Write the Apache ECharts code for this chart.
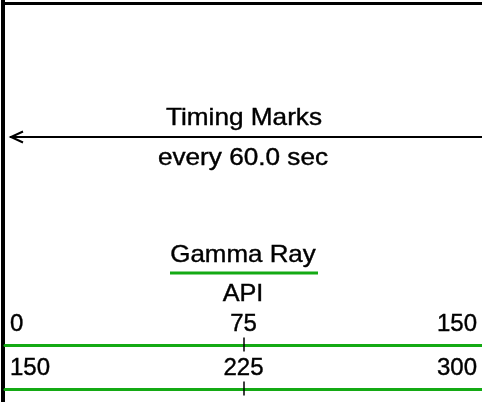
<!DOCTYPE html>
<html>
<head>
<meta charset="utf-8">
<script src="https://cdn.jsdelivr.net/npm/echarts@6/dist/echarts.min.js"></script>
<style>
  html, body { margin: 0; padding: 0; background: #fff; }
  #chart { width: 482px; height: 402px; }
</style>
</head>
<body>
<div id="chart"></div>
<script>
// track header: gamma ray scale, two wraps
const curveName = "Gamma Ray";
const curveUnit = "API";
const timingTitle = "Timing Marks";
const timingNote = "every 60.0 sec";
const scaleMin = [0, 150];
const scaleMax = [150, 300];
const scaleLabels = [[0, 75, 150], [150, 225, 300]];
const scaleTicks = [[75], [225]];

const green = "#14aa14";
const font = "'Liberation Sans', Arial, sans-serif";
const axisTops = [344.5, 388.5];

const grids = [];
const xAxes = [];
const yAxes = [];
const series = [];

axisTops.forEach((top, i) => {
  grids.push({ left: 5, right: 0, top: top, height: 1 });
  // axis line, labels and upward tick
  xAxes.push({
    type: "value",
    gridIndex: i,
    position: "top",
    min: scaleMin[i],
    max: scaleMax[i],
    axisLine: { show: true, lineStyle: { color: green, width: 3 } },
    axisTick: { show: true, customValues: scaleTicks[i], length: 8, lineStyle: { color: "#000", width: 1.5 } },
    splitLine: { show: false },
    axisLabel: {
      show: true,
      customValues: scaleLabels[i],
      showMinLabel: true,
      showMaxLabel: true,
      alignMinLabel: "left",
      alignMaxLabel: "right",
      margin: 8,
      padding: [0, 5, 0, 5],
      color: "#000",
      textBorderColor: "#000",
      textBorderWidth: 0.4,
      fontFamily: font,
      fontSize: 24
    }
  });
  // downward half of the tick
  xAxes.push({
    type: "value",
    gridIndex: i,
    position: "top",
    min: scaleMin[i],
    max: scaleMax[i],
    axisLine: { show: false },
    axisTick: { show: true, inside: true, customValues: scaleTicks[i], length: 7, lineStyle: { color: "#000", width: 1.5 } },
    splitLine: { show: false },
    axisLabel: { show: false }
  });
  yAxes.push({ type: "value", gridIndex: i, show: false, min: 0, max: 1 });
  series.push({ type: "line", xAxisIndex: i * 2, yAxisIndex: i, data: [], silent: true });
});

function label(text, x, y, size, sx) {
  return {
    type: "text",
    x: x,
    y: y,
    scaleX: sx,
    style: {
      text: text,
      align: "center",
      verticalAlign: "middle",
      fill: "#000",
      stroke: "#000",
      lineWidth: 0.4,
      font: size + "px " + font
    }
  };
}

const chart = echarts.init(document.getElementById("chart"), null, { renderer: "canvas" });
chart.setOption({
  animation: false,
  backgroundColor: "#fff",
  grid: grids,
  xAxis: xAxes,
  yAxis: yAxes,
  series: series,
  graphic: [
    // frame
    { type: "line", shape: { x1: 3, y1: 0, x2: 3, y2: 402 }, style: { stroke: "#000", lineWidth: 4 } },
    { type: "line", shape: { x1: 5, y1: 3.5, x2: 482, y2: 3.5 }, style: { stroke: "#000", lineWidth: 3 } },
    // timing marks arrow
    { type: "line", shape: { x1: 10, y1: 137, x2: 482, y2: 137 }, style: { stroke: "#000", lineWidth: 2 } },
    { type: "polyline", shape: { points: [[23, 131.5], [11, 137], [23, 142.5]] }, style: { stroke: "#000", lineWidth: 2, fill: null } },
    label(timingTitle, 244, 118, 24, 1.09),
    label(timingNote, 243, 158, 24, 1.09),
    label(curveName, 243, 255, 24, 1.08),
    { type: "line", shape: { x1: 170, y1: 273, x2: 318, y2: 273 }, style: { stroke: green, lineWidth: 3 } },
    label(curveUnit, 243, 294, 24, 1.05)
  ]
});
</script>
</body>
</html>
